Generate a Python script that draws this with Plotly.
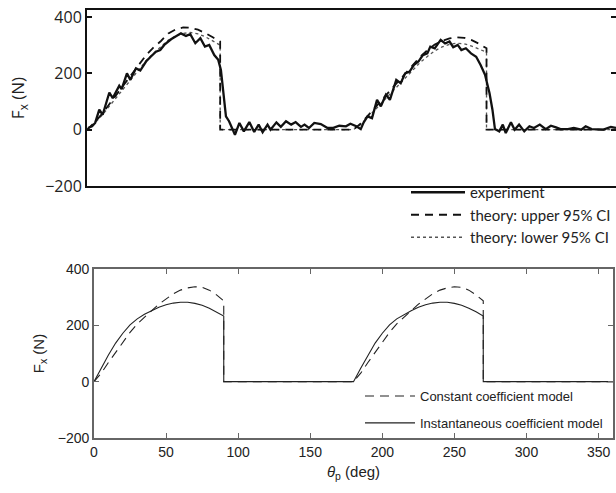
import plotly.graph_objects as go

W, H = 616, 493

# ---------------- Top panel data ----------------
exp_deg = [0.7, 3.4, 5.5, 8.3, 10.6, 15.1, 17.4, 21.8, 23.4, 27, 29.3, 33.1, 36, 39.9, 43.2,
           46.6, 49.5, 52.2, 56.8, 60.1, 63.5, 66.9, 69.8, 73.2, 76.6, 79.7, 82.6, 86, 88.7,
           90.5, 92.4, 93.9, 96, 97, 100, 103, 106, 109.7, 113, 116, 118.7, 122, 124, 128,
           131, 134.5, 138, 141, 144.6, 147, 150, 153.6, 158, 162.6, 166, 170.5, 175, 178,
           182, 185, 187, 189.6, 192.6, 196, 198.6, 202, 204.7, 209, 212, 215, 218, 221, 224,
           227, 230, 232, 235, 239, 242, 245, 247.5, 250.5, 253, 256, 259.5, 263, 266, 269,
           272, 274, 275.7, 278.6, 281, 283, 286.5, 289, 292, 295.5, 299, 302, 306, 310,
           313.5, 317, 320, 325, 329, 334, 337, 341, 345, 349, 354, 357.5]
exp_val = [6, 12, 24, 71, 53, 132, 112, 156, 144, 200, 177, 218, 210, 242, 260,
           277, 283, 301, 321, 330, 342, 333, 339, 307, 325, 295, 301, 265, 248,
           212, 106, 47, 30, 18, -18, 24, -6, 27, -8, 18, -9, 18, 0, 26,
           10, 30, 18, 27, 10, 18, 6, 24, 20, 6, 6, 14, 12, 21,
           12, 2, 26, 47, 41, 106, 83, 124, 106, 177, 165, 200, 206, 230, 242,
           265, 271, 295, 289, 319, 306, 313, 293, 301, 283, 289, 271, 259, 230, 195,
           130, 71, 2, -6, 18, -12, 26, 0, 18, -6, 12, 6, 18, 2,
           14, 8, 2, 2, 6, 0, 12, 2, 0, 0, 10, 6]

th_deg = [0, 5, 10, 15, 20, 25, 30, 35, 40, 45, 50, 55, 60, 65, 70, 75, 80, 85, 90, 90,
          180, 185, 190, 195, 200, 205, 210, 215, 220, 225, 230, 235, 240, 245, 250, 255,
          260, 265, 270, 270, 360]
upper_val = [0, 25, 55, 90, 125, 160, 195, 230, 265, 292, 315, 342, 356, 363, 362, 355, 343, 328, 313, 0,
             0, 22, 50, 80, 110, 140, 170, 200, 230, 258, 282, 302, 315, 324, 328, 326,
             318, 305, 289, 0, 0]
lower_val = [0, 22, 50, 83, 117, 150, 183, 215, 245, 272, 296, 318, 333, 342, 345, 340, 330, 315, 300, 0,
             0, 18, 44, 72, 100, 128, 156, 184, 212, 238, 260, 280, 294, 303, 307, 305,
             297, 287, 275, 0, 0]

# ---------------- Bottom panel data ----------------
mdl_deg = th_deg
const_val = [0, 30, 68, 105, 140, 175, 205, 230, 252, 275, 295, 312, 325, 333, 337, 335, 325, 308, 287, 0,
             0, 30, 68, 105, 140, 175, 205, 230, 252, 275, 295, 312, 325, 333, 337, 335,
             325, 308, 287, 0, 0]
inst_val = [0, 48, 95, 137, 172, 202, 223, 239, 252, 264, 273, 279, 282, 282, 278, 271, 261, 248, 233, 0,
            0, 48, 95, 137, 172, 202, 223, 239, 252, 264, 273, 279, 282, 282, 278, 271,
            261, 248, 233, 0, 0]

top_yticks = [-200, 0, 200, 400]
top_yticktext = ["\u2212200", "0", "200", "400"]
bot_xticks = [0, 50, 100, 150, 200, 250, 300, 350]
bot_yticks = [-200, 0, 200, 400]

TOPFONT = "Open Sans"
LEGFONT = "Lato"
BOTFONT = "Liberation Sans"

fig = go.Figure()

fig.add_trace(go.Scatter(x=th_deg, y=lower_val, mode="lines", name="theory: lower 95% CI",
                         line=dict(color="#555555", width=1.3, dash="dot"),
                         xaxis="x", yaxis="y", legend="legend", legendrank=3))
fig.add_trace(go.Scatter(x=th_deg, y=upper_val, mode="lines", name="theory: upper 95% CI",
                         line=dict(color="#111111", width=1.8, dash="8px,6px"),
                         xaxis="x", yaxis="y", legend="legend", legendrank=2))
fig.add_trace(go.Scatter(x=exp_deg, y=exp_val, mode="lines", name="experiment",
                         line=dict(color="#111111", width=2.3),
                         xaxis="x", yaxis="y", legend="legend", legendrank=1))

fig.add_trace(go.Scatter(x=mdl_deg, y=const_val, mode="lines", name="Constant coefficient model",
                         line=dict(color="#222222", width=1.1, dash="9px,6px"),
                         xaxis="x2", yaxis="y2", legend="legend2", legendrank=1,
                         legendgroup="a"))
fig.add_trace(go.Scatter(x=mdl_deg, y=inst_val, mode="lines", name="Instantaneous coefficient model",
                         line=dict(color="#222222", width=1.1),
                         xaxis="x2", yaxis="y2", legend="legend2", legendrank=2,
                         legendgroup="b"))

top_dom_y = [1 - 186 / H, 1 - 10 / H]
bot_dom_y = [1 - 438 / H, 1 - 269 / H]

fig.update_layout(
    width=W, height=H,
    margin=dict(l=0, r=0, t=0, b=0, autoexpand=False),
    paper_bgcolor="white", plot_bgcolor="white",
    xaxis=dict(domain=[87 / W, 1.0], range=[0, 357.5], showticklabels=False, ticks="",
               showgrid=False, zeroline=False, showline=True, linecolor="#111111",
               linewidth=2, mirror=True, anchor="y", automargin=False),
    yaxis=dict(domain=top_dom_y, range=[-200, 425], tickvals=top_yticks,
               ticktext=top_yticktext, ticks="inside", ticklen=5, tickwidth=1.5,
               tickcolor="#111111", showgrid=False, zeroline=False, showline=True,
               linecolor="#111111", linewidth=2, mirror="ticks", anchor="x",
               automargin=False,
               tickfont=dict(family=TOPFONT, size=16, color="#222222"),
               title=dict(text="F<sub>x</sub> (N)", standoff=16,
                          font=dict(family=TOPFONT, size=17, color="#222222"))),
    xaxis2=dict(domain=[94 / W, 613 / W], range=[0, 360], tickvals=bot_xticks,
                ticks="inside", ticklen=5, tickwidth=1.3, tickcolor="#666666",
                showgrid=False, zeroline=False, showline=True, linecolor="#666666",
                linewidth=1.8, mirror="ticks", anchor="y2", automargin=False,
                tickfont=dict(family=BOTFONT, size=14, color="#222222"),
                title=dict(text="<i>\u03b8</i><sub>p</sub> (deg)", standoff=8,
                           font=dict(family=BOTFONT, size=15, color="#222222"))),
    yaxis2=dict(domain=bot_dom_y, range=[-200, 400], tickvals=bot_yticks,
                ticks="inside", ticklen=5, tickwidth=1.3, tickcolor="#666666",
                showgrid=False, zeroline=False, showline=True, linecolor="#666666",
                linewidth=1.8, mirror="ticks", anchor="x2", automargin=False,
                tickfont=dict(family=BOTFONT, size=14, color="#222222"),
                title=dict(text="F<sub>x</sub> (N)", standoff=10,
                           font=dict(family=BOTFONT, size=15, color="#222222"))),
    legend=dict(x=406 / W, y=1 - 176 / H, xanchor="left", yanchor="top",
                bgcolor="rgba(0,0,0,0)", borderwidth=0, itemwidth=54,
                font=dict(family=LEGFONT, size=15, color="#222222"),
                tracegroupgap=0),
    legend2=dict(x=360 / W, y=1 - 381 / H, xanchor="left", yanchor="top",
                 bgcolor="rgba(0,0,0,0)", borderwidth=0, itemwidth=50,
                 font=dict(family=BOTFONT, size=13, color="#222222"),
                 tracegroupgap=7),
    showlegend=True,
)

fig.write_html("out.html")
